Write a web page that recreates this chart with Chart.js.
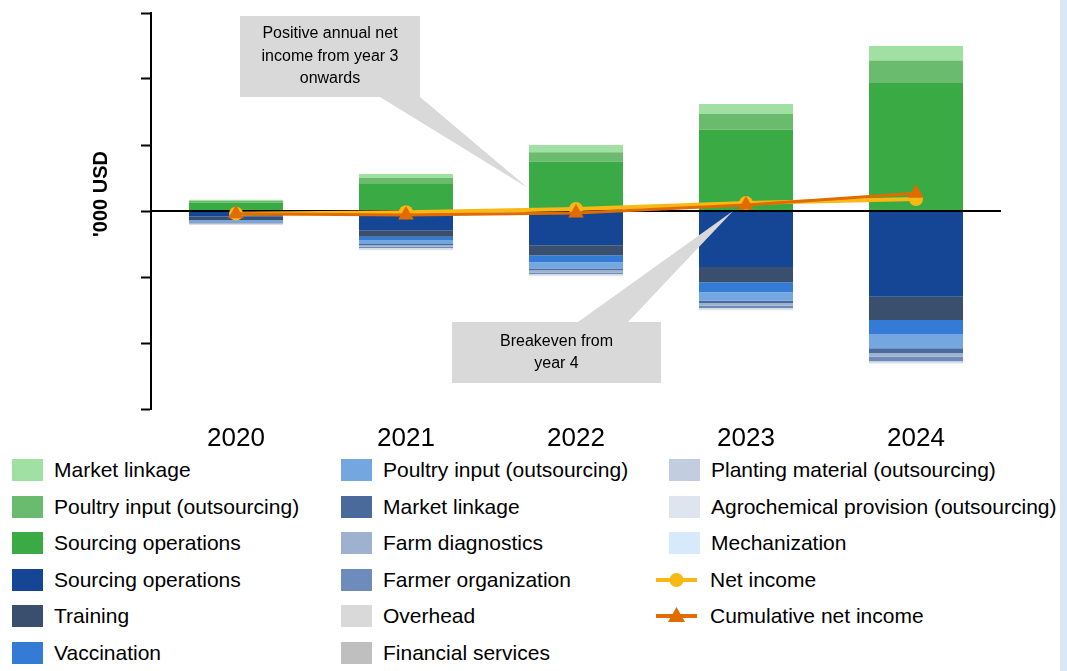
<!DOCTYPE html>
<html>
<head>
<meta charset="utf-8">
<script src="https://cdn.jsdelivr.net/npm/chart.js@4"></script>
<style>
  body { margin: 0; background: #fff; font-family: "Liberation Sans", Arial, sans-serif; }
  #wrap { position: relative; width: 1067px; height: 671px; overflow: hidden; }
  #chartBox { position: absolute; left: 0; top: 0; width: 1067px; height: 450px; }
  #strip { position: absolute; left: 1060px; top: 0; width: 7px; height: 671px; background: #dae8f5; }
  #legend {
    position: absolute; left: 12px; top: 452px;
    display: grid; grid-auto-flow: column;
    grid-template-columns: 329px 328px 360px;
    grid-template-rows: repeat(6, 36.5px);
    font-size: 21px; color: #000;
  }
  .item { display: flex; align-items: center; white-space: nowrap; }
  .sw { width: 31px; height: 22px; margin-right: 11px; flex: none; }
  .ln { width: 41px; height: 22px; margin-left: -13px; flex: none; }
</style>
</head>
<body>
<div id="wrap">
  <div id="chartBox"><canvas id="c"></canvas></div>
  <div id="legend"></div>
  <div id="strip"></div>
</div>
<script>
const years = ['2020', '2021', '2022', '2023', '2024'];

// income side (positive)
const marketLinkageIn = [2, 6, 11, 15, 22];
const poultryInputIn = [2, 9, 14, 24, 34];
const sourcingIn = [13, 41, 75, 123, 194];

// cost side (negative)
const sourcingOut = [-8.5, -29, -52, -85, -130];
const training = [-5, -10, -15, -23, -35];
const vaccination = [-1, -5, -10.5, -15, -22];
const poultryInputOut = [-2, -6, -9.5, -13, -21];
const marketLinkageOut = [-1, -2, -2.5, -3.5, -7];
const farmDiagnostics = [-1, -2, -3.5, -3.5, -6];
const farmerOrganization = [-1, -2, -2.5, -4, -6.5];
const overhead = [-0.3, -0.5, -0.5, -0.5, -0.5];
const financialServices = [-0.3, -0.5, -0.5, -0.5, -0.5];
const plantingMaterial = [-0.5, -1, -1, -1, -1];
const agrochemical = [-0.5, -1, -1, -1, -1.5];
const mechanization = [-0.3, -0.5, -0.5, -0.5, -0.5];

const netIncome = [-4, -2, 3, 12, 18];
const cumulativeNetIncome = [-4, -6, -3, 9, 27];

const FONT = '"Liberation Sans", Arial, sans-serif';

function bar(label, data, color) {
    return { type: 'bar', label: label, data: data, backgroundColor: color, borderWidth: 0, stack: 'cost', order: 0 };
}

const barSets = [
    bar('Sourcing operations', sourcingIn, '#3aaa44'),
    bar('Poultry input (outsourcing)', poultryInputIn, '#6bbb6f'),
    bar('Market linkage', marketLinkageIn, '#a1e0a3'),
    bar('Sourcing operations', sourcingOut, '#154696'),
    bar('Training', training, '#3a4f6e'),
    bar('Vaccination', vaccination, '#347bd6'),
    bar('Poultry input (outsourcing)', poultryInputOut, '#74a6e0'),
    bar('Market linkage', marketLinkageOut, '#4a6a9b'),
    bar('Farm diagnostics', farmDiagnostics, '#9fb1d1'),
    bar('Farmer organization', farmerOrganization, '#6d8cbc'),
    bar('Overhead', overhead, '#d9d9d9'),
    bar('Financial services', financialServices, '#bfbfbf'),
    bar('Planting material (outsourcing)', plantingMaterial, '#c3cde0'),
    bar('Agrochemical provision (outsourcing)', agrochemical, '#dfe5ef'),
    bar('Mechanization', mechanization, '#d6eafb')
];

const lineSets = [
    { type: 'line', label: 'Net income', data: netIncome, borderColor: '#fab814', backgroundColor: '#fab814',
      borderWidth: 4, pointStyle: 'circle', pointRadius: 7, pointBorderWidth: 0, stack: 'net', order: -1, tension: 0 },
    { type: 'line', label: 'Cumulative net income', data: cumulativeNetIncome, borderColor: '#e06c00', backgroundColor: '#e06c00',
      borderWidth: 3, pointStyle: 'triangle', pointRadius: 9, pointBorderWidth: 0, stack: 'cum', order: -2, tension: 0 }
];

// zero line drawn over the bars but under the lines
const zeroLine = {
    id: 'zeroLine',
    afterDatasetDraw(chart, args) {
        if (args.index !== 0) return;
        const { ctx, chartArea, scales } = chart;
        const y = scales.y.getPixelForValue(0);
        ctx.save();
        ctx.strokeStyle = '#000';
        ctx.lineWidth = 2;
        ctx.beginPath();
        ctx.moveTo(chartArea.left, y);
        ctx.lineTo(chartArea.right, y);
        ctx.stroke();
        ctx.restore();
    }
};

// y title sits a bit above the middle of the axis in the original
const yTitle = {
    id: 'yTitle',
    afterDraw(chart) {
        const { ctx } = chart;
        ctx.save();
        ctx.translate(101, 194);
        ctx.rotate(-Math.PI / 2);
        ctx.fillStyle = '#000';
        ctx.font = 'bold 20px ' + FONT;
        ctx.textAlign = 'center';
        ctx.textBaseline = 'middle';
        ctx.fillText("'000 USD", 0, 0);
        ctx.restore();
    }
};

function callout(ctx, box, base, tip, lines, lineH) {
    ctx.fillStyle = '#d9d9d9';
    ctx.beginPath();
    ctx.moveTo(base[0][0], base[0][1]);
    ctx.lineTo(tip[0], tip[1]);
    ctx.lineTo(base[1][0], base[1][1]);
    ctx.closePath();
    ctx.fill();
    ctx.fillRect(box.x, box.y, box.w, box.h);
    ctx.fillStyle = '#000';
    ctx.font = '16px ' + FONT;
    ctx.textAlign = 'center';
    ctx.textBaseline = 'middle';
    const cx = box.x + box.w / 2;
    const y0 = box.y + box.h / 2 - (lines.length - 1) * lineH / 2;
    lines.forEach((t, i) => ctx.fillText(t, cx, y0 + i * lineH));
}

const callouts = {
    id: 'callouts',
    afterDraw(chart) {
        const { ctx, scales } = chart;
        ctx.save();
        const tip1 = [scales.x.getPixelForValue(2) - 48, scales.y.getPixelForValue(35)];
        callout(ctx, { x: 240, y: 16, w: 180, h: 81 }, [[380, 97], [420, 97]], tip1,
            ['Positive annual net', 'income from year 3', 'onwards'], 22.5);
        const tip2 = [scales.x.getPixelForValue(3) - 13, scales.y.getPixelForValue(0)];
        callout(ctx, { x: 452, y: 322, w: 209, h: 61 }, [[578, 322], [628, 322]], tip2,
            ['Breakeven from', 'year 4'], 22.5);
        ctx.restore();
    }
};

new Chart(document.getElementById('c'), {
    data: { labels: years, datasets: barSets.concat(lineSets) },
    options: {
        responsive: true,
        maintainAspectRatio: false,
        animation: false,
        layout: { padding: { left: 80, right: 66, top: 13, bottom: 0 } },
        datasets: { bar: { barPercentage: 0.553, categoryPercentage: 1 } },
        plugins: { legend: { display: false }, tooltip: { enabled: false } },
        scales: {
            x: {
                stacked: true,
                grid: { display: false, drawTicks: false },
                border: { display: false },
                ticks: { color: '#000', font: { family: FONT, size: 26 }, padding: 14 },
                afterFit(s) { s.height = 41; }
            },
            y: {
                stacked: true,
                min: -300, max: 300,
                ticks: { stepSize: 100, display: false },
                grid: { drawOnChartArea: false, tickColor: '#000', tickLength: 10, tickWidth: 2 },
                border: { color: '#000', width: 2 },
                afterFit(s) { s.width = 71; }
            }
        }
    },
    plugins: [zeroLine, yTitle, callouts]
});

// legend, column by column like the original
const legendOrder = [2, 1, 0, 3, 4, 5, 6, 7, 8, 9, 10, 11, 12, 13, 14];
const legend = document.getElementById('legend');
legendOrder.forEach(i => {
    const d = barSets[i];
    const el = document.createElement('div');
    el.className = 'item';
    el.innerHTML = '<span class="sw" style="background:' + d.backgroundColor + '"></span><span>' + d.label + '</span>';
    legend.appendChild(el);
});
lineSets.forEach(d => {
    const el = document.createElement('div');
    el.className = 'item';
    const mark = d.pointStyle === 'circle'
        ? '<circle cx="20.5" cy="11" r="7" fill="' + d.borderColor + '"/>'
        : '<polygon points="20.5,2 29,17 12,17" fill="' + d.borderColor + '"/>';
    el.innerHTML = '<svg class="ln" viewBox="0 0 41 22"><rect x="0" y="9" width="41" height="4" fill="' + d.borderColor + '"/>' + mark + '</svg><span style="margin-left:13px">' + d.label + '</span>';
    legend.appendChild(el);
});
</script>
</body>
</html>
